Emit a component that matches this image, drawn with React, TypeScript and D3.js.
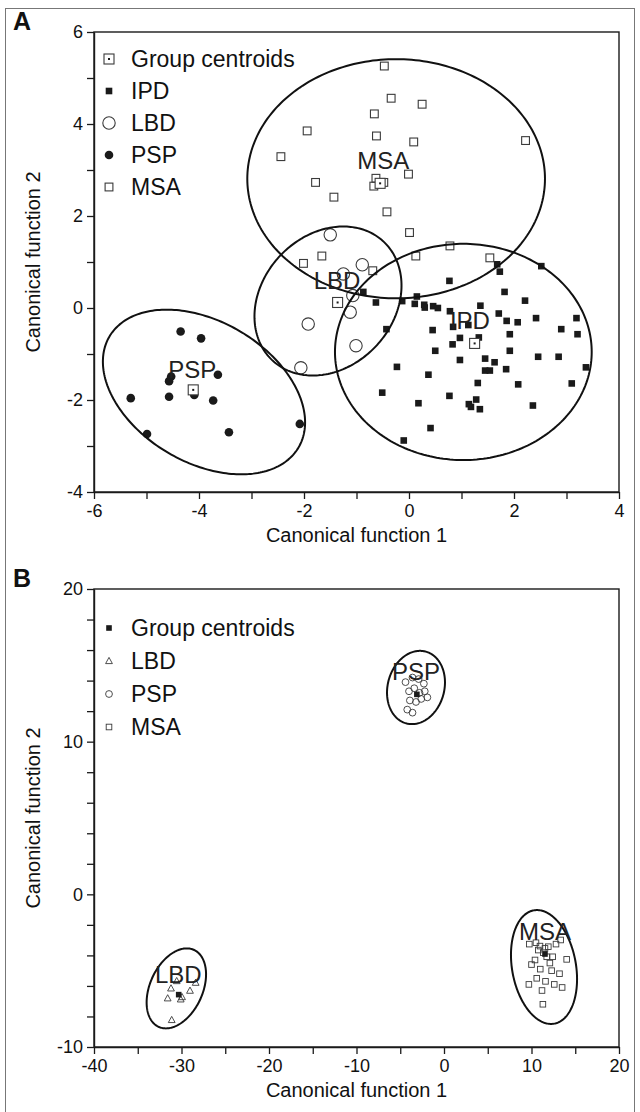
import React, { useEffect, useRef } from "react";
import * as d3 from "d3";

type Pt = [number, number];
// ellipse: centre, then two conjugate semi-axis vectors (data units)
type Ell = [number, number, number, number, number, number];

const FONT = "'Liberation Sans', Arial, Helvetica, sans-serif";

// ---------- panel A ----------
const ipdA: Pt[] = [
  [1.68, 0.95], [1.73, 0.79], [2.52, 0.91], [0.77, 0.59], [-0.87, 0.35], [1.82, 0.35],
  [0.15, 0.25], [-0.13, 0.15], [-0.63, 0.12], [0.11, 0.09], [0.29, 0.07], [0.3, 0.01],
  [0.46, 0.04], [0.55, 0.0], [1.36, 0.05], [2.21, 0.16], [0.78, -0.07], [1.71, -0.12],
  [1.86, -0.28], [2.07, -0.31], [2.42, -0.22], [3.19, -0.22], [2.9, -0.46], [3.21, -0.57],
  [0.45, -0.48], [0.84, -0.41], [1.13, -0.37], [-0.43, -0.46], [0.97, -0.65], [1.33, -0.64],
  [1.92, -0.57], [0.83, -0.79], [0.5, -0.93], [1.92, -0.93], [0.97, -1.13], [1.45, -1.1],
  [1.63, -1.18], [2.46, -1.06], [2.85, -1.06], [3.37, -1.29], [-0.23, -1.28], [0.37, -1.45],
  [1.45, -1.36], [1.54, -1.36], [1.85, -1.33], [1.31, -1.63], [2.08, -1.66], [3.1, -1.64],
  [-0.51, -1.84], [0.77, -1.91], [0.18, -2.07], [1.28, -1.99], [1.14, -2.09], [1.18, -2.15],
  [1.35, -2.2], [2.36, -2.12], [0.41, -2.61], [-0.1, -2.88],
];
const lbdA: Pt[] = [
  [-1.5, 1.59], [-0.89, 0.94], [-1.25, 0.74], [-1.07, 0.27], [-1.12, -0.09],
  [-1.92, -0.35], [-1.01, -0.82], [-2.06, -1.3],
];
const pspA: Pt[] = [
  [-4.35, -0.51], [-3.96, -0.66], [-4.53, -1.49], [-4.57, -1.59], [-3.64, -1.45], [-4.09, -1.89],
  [-4.57, -1.93], [-3.73, -2.01], [-5.3, -1.96], [-4.99, -2.74], [-3.43, -2.7], [-2.08, -2.52],
];
const msaA: Pt[] = [
  [-0.47, 5.26], [-0.34, 4.56], [0.25, 4.43], [-0.66, 4.22], [-1.94, 3.85], [-0.62, 3.74],
  [0.09, 3.61], [2.22, 3.64], [-2.44, 3.29], [-0.01, 2.91], [-1.78, 2.73], [-0.63, 2.82],
  [-0.48, 2.73], [-0.67, 2.65], [-1.43, 2.41], [-0.42, 2.09], [0.01, 1.64], [-1.66, 1.13],
  [-2.01, 0.97], [-0.69, 0.81], [0.13, 1.13], [0.78, 1.35], [1.54, 1.09],
];
const centroidsA: Pt[] = [[1.25, -0.77], [-1.36, 0.12], [-4.11, -1.78], [-0.55, 2.71]];
const ellipsesA: Ell[] = [
  [-0.245, 2.81, 0, 2.6, 2.835, 0], // MSA
  [1.035, -0.955, 0, 2.35, 2.445, 0], // IPD
  [-1.543, 0.152, 0.29, 1.62, 1.37, 0], // LBD
  [-3.905, -1.826, -0.71, 1.79, 1.79, 0], // PSP
];
const groupLabelsA = ["MSA", "LBD", "IPD", "PSP"];
const groupLabelPosA: Pt[] = [[-0.49, 3.2], [-1.37, 0.59], [1.16, -0.28], [-4.13, -1.33]];
const legendA = ["Group centroids", "IPD", "LBD", "PSP", "MSA"];
const xTicksA = [-6, -5, -4, -3, -2, -1, 0, 1, 2, 3, 4];
const xLabelsA = [-6, -4, -2, 0, 2, 4];
const yTicksA = [-4, -3, -2, -1, 0, 1, 2, 3, 4, 5, 6];
const yLabelsA = [-4, -2, 0, 2, 4, 6];

// ---------- panel B ----------
const lbdB: Pt[] = [
  [-30.55, -5.68], [-28.38, -5.79], [-31.2, -6.16], [-29.03, -6.31],
  [-31.58, -6.81], [-30.09, -6.88], [-29.94, -6.73], [-31.12, -8.23],
];
const pspB: Pt[] = [
  [-4.4, 13.9], [-3.6, 14.2], [-2.9, 14.1], [-2.3, 13.8], [-4.0, 13.3], [-3.4, 13.5],
  [-2.8, 13.2], [-2.2, 13.3], [-1.9, 12.9], [-3.9, 12.7], [-3.2, 12.6], [-4.2, 12.1],
  [-3.6, 11.9], [-2.6, 12.8],
];
const msaB: Pt[] = [
  [9.75, -3.26], [10.51, -3.17], [10.97, -3.39], [10.78, -3.65], [11.54, -3.54], [11.92, -3.43],
  [12.8, -3.26], [13.33, -2.99], [11.35, -3.82], [11.74, -4.09], [12.42, -4.09], [14.02, -4.26],
  [10.0, -4.6], [11.0, -4.9], [12.3, -5.0], [13.2, -5.2], [10.6, -5.5], [11.6, -5.7],
  [12.6, -5.9], [9.7, -5.9], [11.2, -6.3], [13.5, -6.1], [11.3, -7.2], [12.1, -4.5], [10.4, -4.3],
];
const centroidsB: Pt[] = [[-30.32, -6.57], [-3.1, 13.1], [11.54, -3.91]];
const ellipsesB: Ell[] = [
  [-30.59, -6.16, 1.19, 2.62, 3.18, 0], // LBD
  [-3.2, 13.55, 0.46, 2.4, 3.28, 0], // PSP
  [11.43, -4.76, -0.8, 3.73, 3.69, 0], // MSA
];
const groupLabelsB = ["LBD", "PSP", "MSA"];
const groupLabelPosB: Pt[] = [[-30.37, -5.22], [-3.2, 14.58], [11.54, -2.45]];
const legendB = ["Group centroids", "LBD", "PSP", "MSA"];
const xTicksB = [-40, -35, -30, -25, -20, -15, -10, -5, 0, 5, 10, 15, 20];
const xLabelsB = [-40, -30, -20, -10, 0, 10, 20];
const yTicksB = [-10, -8, -6, -4, -2, 0, 2, 4, 6, 8, 10, 12, 14, 16, 18, 20];
const yLabelsB = [-10, 0, 10, 20];

const LEFT = 94;
const RIGHT = 619;
const INK = "#1a1a1a";
const OPEN = "#3a3a3a";

const marker = (g: any, type: string, cx: number, cy: number) => {
  switch (type) {
    case "centroidOpen":
      g.append("rect").attr("x", cx - 5).attr("y", cy - 5).attr("width", 10).attr("height", 10)
        .attr("fill", "white").attr("stroke", OPEN).attr("stroke-width", 1.1);
      g.append("rect").attr("x", cx - 1).attr("y", cy - 1).attr("width", 2).attr("height", 2).attr("fill", INK);
      break;
    case "square":
      g.append("rect").attr("x", cx - 3.3).attr("y", cy - 3.3).attr("width", 6.6).attr("height", 6.6).attr("fill", INK);
      break;
    case "squareSmall":
      g.append("rect").attr("x", cx - 2.8).attr("y", cy - 2.8).attr("width", 5.6).attr("height", 5.6).attr("fill", INK);
      break;
    case "circleOpen":
      g.append("circle").attr("cx", cx).attr("cy", cy).attr("r", 6.2)
        .attr("fill", "none").attr("stroke", OPEN).attr("stroke-width", 1.1);
      break;
    case "circle":
      g.append("circle").attr("cx", cx).attr("cy", cy).attr("r", 4.3).attr("fill", INK);
      break;
    case "squareOpen":
      g.append("rect").attr("x", cx - 3.9).attr("y", cy - 3.9).attr("width", 7.8).attr("height", 7.8)
        .attr("fill", "none").attr("stroke", OPEN).attr("stroke-width", 1.1);
      break;
    case "squareOpenSmall":
      g.append("rect").attr("x", cx - 2.8).attr("y", cy - 2.8).attr("width", 5.6).attr("height", 5.6)
        .attr("fill", "none").attr("stroke", OPEN).attr("stroke-width", 0.9);
      break;
    case "circleOpenSmall":
      g.append("circle").attr("cx", cx).attr("cy", cy).attr("r", 3.4)
        .attr("fill", "none").attr("stroke", OPEN).attr("stroke-width", 0.9);
      break;
    case "triangleOpen":
      g.append("path")
        .attr("d", `M${cx},${cy - 3.6}L${cx + 3.4},${cy + 2.6}L${cx - 3.4},${cy + 2.6}Z`)
        .attr("fill", "none").attr("stroke", OPEN).attr("stroke-width", 0.9);
      break;
  }
};

const drawPanel = (svg: any, p: any) => {
  const x = d3.scaleLinear().domain(p.xDomain).range([LEFT, RIGHT]);
  const y = d3.scaleLinear().domain(p.yDomain).range([p.bottom, p.top]);
  const g = svg.append("g");

  // points
  p.series.forEach((s: any) => s.data.forEach((d: Pt) => marker(g, s.marker, x(d[0]), y(d[1]))));
  p.centroids.forEach((d: Pt) => marker(g, p.centroidMarker, x(d[0]), y(d[1])));

  // group ellipses
  const ts = d3.range(0, 2 * Math.PI, Math.PI / 120);
  const line = d3.line().curve(d3.curveLinearClosed);
  p.ellipses.forEach(([cx, cy, ux, uy, vx, vy]: Ell) => {
    const pts = ts.map((t) => [
      x(cx + ux * Math.cos(t) + vx * Math.sin(t)),
      y(cy + uy * Math.cos(t) + vy * Math.sin(t)),
    ] as [number, number]);
    g.append("path").attr("d", line(pts)).attr("fill", "none").attr("stroke", "#111").attr("stroke-width", 2);
  });

  // group names
  p.groupLabels.forEach((name: string, i: number) => {
    const [lx, ly] = p.groupLabelPos[i];
    g.append("text").attr("x", x(lx)).attr("y", y(ly) + 8.5).attr("text-anchor", "middle")
      .attr("font-family", FONT).attr("font-size", 24).attr("fill", "#222").text(name);
  });

  // frame
  g.append("rect").attr("x", LEFT).attr("y", p.top).attr("width", RIGHT - LEFT).attr("height", p.bottom - p.top)
    .attr("fill", "none").attr("stroke", INK).attr("stroke-width", 1.4);

  // axes
  const xAxis = d3.axisBottom(x).tickValues(p.xTicks).tickSizeInner(7).tickSizeOuter(0).tickPadding(5)
    .tickFormat((v: any) => (p.xLabels.includes(+v) ? String(v) : ""));
  const yAxis = d3.axisLeft(y).tickValues(p.yTicks).tickSizeInner(7).tickSizeOuter(0).tickPadding(4)
    .tickFormat((v: any) => (p.yLabels.includes(+v) ? String(v) : ""));
  const gx = g.append("g").attr("transform", `translate(0,${p.bottom})`).call(xAxis);
  const gy = g.append("g").attr("transform", `translate(${LEFT},0)`).call(yAxis);
  [gx, gy].forEach((a) => {
    a.select(".domain").attr("stroke", INK).attr("stroke-width", 1.4);
    a.selectAll(".tick line").attr("stroke", INK).attr("stroke-width", 1.3);
    a.selectAll(".tick text").attr("font-family", FONT).attr("font-size", 18).attr("fill", "#111");
  });

  // axis titles
  g.append("text").attr("x", (LEFT + RIGHT) / 2).attr("y", p.bottom + 50).attr("text-anchor", "middle")
    .attr("font-family", FONT).attr("font-size", 20).attr("fill", "#111").text("Canonical function 1");
  g.append("text").attr("transform", `translate(40,${(p.top + p.bottom) / 2}) rotate(-90)`)
    .attr("text-anchor", "middle").attr("font-family", FONT).attr("font-size", 20).attr("fill", "#111")
    .text("Canonical function 2");

  // panel letter
  g.append("text").attr("x", 13).attr("y", p.top - 2).attr("font-family", FONT).attr("font-weight", "bold")
    .attr("font-size", 25).attr("fill", "#111").text(p.letter);

  // legend
  p.legend.forEach((name: string, i: number) => {
    const ly = p.legendTop + i * p.legendStep;
    marker(g, p.legendMarkers[i], 109, ly);
    g.append("text").attr("x", 131).attr("y", ly + 8.3).attr("font-family", FONT).attr("font-size", 23)
      .attr("fill", "#111").text(name);
  });
};

export default function App() {
  const ref = useRef<SVGSVGElement>(null);

  useEffect(() => {
    const svg = d3.select(ref.current);
    svg.selectAll("*").remove();

    svg.append("rect").attr("x", 5.5).attr("y", 8.5).attr("width", 629).attr("height", 1110)
      .attr("fill", "none").attr("stroke", "#777").attr("stroke-width", 1);

    drawPanel(svg, {
      letter: "A", top: 32, bottom: 492, xDomain: [-6, 4], yDomain: [-4, 6],
      xTicks: xTicksA, xLabels: xLabelsA, yTicks: yTicksA, yLabels: yLabelsA,
      series: [
        { data: ipdA, marker: "square" },
        { data: lbdA, marker: "circleOpen" },
        { data: pspA, marker: "circle" },
        { data: msaA, marker: "squareOpen" },
      ],
      centroids: centroidsA, centroidMarker: "centroidOpen",
      ellipses: ellipsesA, groupLabels: groupLabelsA, groupLabelPos: groupLabelPosA,
      legend: legendA, legendMarkers: ["centroidOpen", "square", "circleOpen", "circle", "squareOpen"],
      legendTop: 59, legendStep: 32,
    });

    drawPanel(svg, {
      letter: "B", top: 589, bottom: 1047, xDomain: [-40, 20], yDomain: [-10, 20],
      xTicks: xTicksB, xLabels: xLabelsB, yTicks: yTicksB, yLabels: yLabelsB,
      series: [
        { data: lbdB, marker: "triangleOpen" },
        { data: pspB, marker: "circleOpenSmall" },
        { data: msaB, marker: "squareOpenSmall" },
      ],
      centroids: centroidsB, centroidMarker: "squareSmall",
      ellipses: ellipsesB, groupLabels: groupLabelsB, groupLabelPos: groupLabelPosB,
      legend: legendB, legendMarkers: ["squareSmall", "triangleOpen", "circleOpenSmall", "squareOpenSmall"],
      legendTop: 628, legendStep: 33,
    });
  }, []);

  return (
    <div style={{ position: "absolute", left: 0, top: 0 }}>
      <svg ref={ref} width={640} height={1112} style={{ display: "block", background: "white" }} />
    </div>
  );
}
